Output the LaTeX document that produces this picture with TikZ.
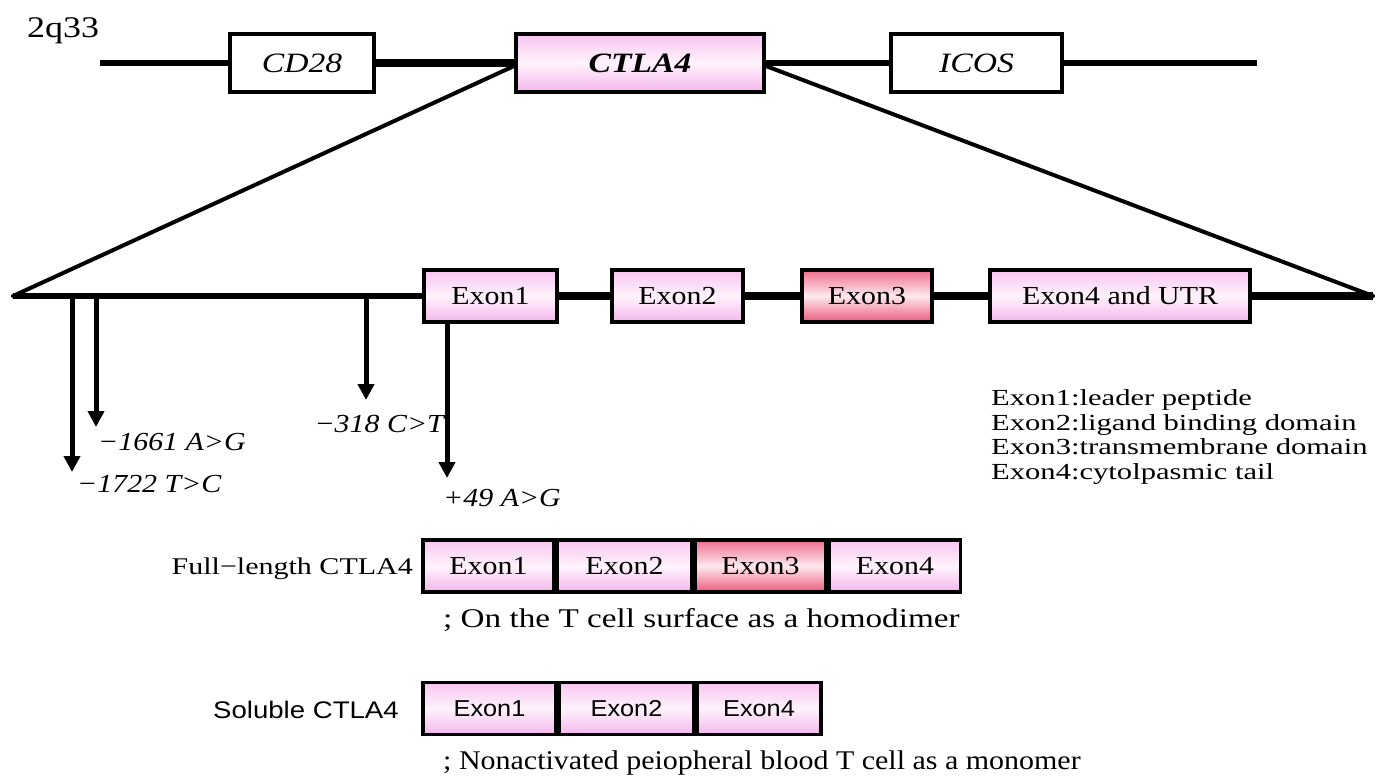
\documentclass[tikz,border=0pt]{standalone}
\usepackage{fontspec}
\setmainfont{Liberation Serif}
\newfontfamily\chromfont[FakeStretch=1.2]{Liberation Serif}
\newfontfamily\boxfont[FakeStretch=1.15]{Liberation Serif}
\newfontfamily\legfont[FakeStretch=1.33]{Liberation Serif}
\newfontfamily\lblfont[FakeStretch=1.25]{Liberation Serif}
\newfontfamily\capAfont[FakeStretch=1.23]{Liberation Serif}
\newfontfamily\capBfont[FakeStretch=1.11]{Liberation Serif}
\newfontfamily\solfont[FakeStretch=1.15]{Liberation Sans}
\newfontfamily\solboxfont[FakeStretch=1.1]{Liberation Sans}
\usetikzlibrary{arrows.meta}
\definecolor{pinktop}{HTML}{F7C4F1}
\definecolor{pinkmid}{HTML}{FFF3FC}
\definecolor{pinkbot}{HTML}{F3B6EC}
\definecolor{redtop}{HTML}{EE6E8E}
\definecolor{redmid}{HTML}{FFE9EF}
\definecolor{redbot}{HTML}{EA5A7C}
\begin{document}
\begin{tikzpicture}[x=1pt,y=-1pt,
  pinkshade/.style={top color=pinktop, bottom color=pinkbot, middle color=pinkmid},
  redshade/.style={top color=redtop, bottom color=redbot, middle color=redmid},
  genebox/.style={draw, line width=3.8pt, minimum height=58pt, inner sep=0pt,
    font=\chromfont\fontsize{28}{30}\selectfont\itshape},
  exon/.style={draw, line width=3.2pt, minimum height=52pt, inner sep=0pt,
    font=\boxfont\fontsize{26}{28}\selectfont},
  seg/.style={draw, line width=3.5pt, minimum height=52pt, inner sep=0pt,
    font=\boxfont\fontsize{26}{28}\selectfont},
  solseg/.style={seg, font=\solboxfont\fontsize{23}{25}\selectfont},
  chrline/.style={line width=5.5pt},
  linkline/.style={line width=8.5pt},
  diag/.style={line width=4pt, line cap=round},
  mut/.style={line width=5pt, -{Triangle[width=16pt,length=16pt]}},
  mutlabel/.style={inner sep=0pt, anchor=base west,
    font=\boxfont\fontsize{26}{28}\selectfont\itshape},
  legline/.style={inner sep=0pt, anchor=base west,
    font=\legfont\fontsize{23}{24}\selectfont},
]
\useasboundingbox (0,0) rectangle (1376,779);

% chromosome band 2q33 with its three genes
\node[inner sep=0pt, anchor=base west, font=\chromfont\fontsize{30}{30}\selectfont] (band) at (27,37) {2q33};
\node[genebox, fill=white, minimum width=144pt] (cd28) at (302,63) {CD28};
\node[genebox, pinkshade, minimum width=248pt,
  font=\chromfont\fontsize{28}{30}\selectfont\bfseries\itshape] (ctla) at (640,63) {CTLA4};
\node[genebox, fill=white, minimum width=171pt] (icos) at (976.5,63) {ICOS};
\coordinate (chrL) at (100,63);
\coordinate (chrR) at (1257,63);
\draw[chrline] (chrL) -- (cd28.west);
\draw[line width=8pt] (cd28.east) -- (ctla.west);
\draw[chrline] (ctla.east) -- (icos.west);
\draw[chrline] (icos.east) -- (chrR);

% CTLA4 gene structure
\coordinate (geneL) at (13,296);
\coordinate (geneR) at (1373,296);
\node[exon, pinkshade, minimum width=133pt] (x1) at (490.5,296) {Exon1};
\node[exon, pinkshade, minimum width=131pt] (x2) at (677.5,296) {Exon2};
\node[exon, redshade, minimum width=130pt] (x3) at (867,296) {Exon3};
\node[exon, pinkshade, minimum width=260pt] (x4) at (1120,296) {Exon4 and UTR};
\draw[chrline] (geneL) -- (x1.west);
\draw[linkline] (x1.east) -- (x2.west);
\draw[linkline] (x2.east) -- (x3.west);
\draw[linkline] (x3.east) -- (x4.west);
\draw[linkline] (x4.east) -- (geneR);

% zoom-out lines from the gene on the chromosome
\draw[diag] ([yshift=-3pt]ctla.west) -- (geneL);
\draw[diag] ([yshift=-3pt]ctla.east) -- (geneR);

% polymorphisms
\coordinate (m1) at (72,472);
\coordinate (m2) at (96,427);
\coordinate (m3) at (366,400);
\coordinate (m4) at (447,478);
\draw[mut] (m1 |- geneL) -- (m1);
\draw[mut] (m2 |- geneL) -- (m2);
\draw[mut] (m3 |- geneL) -- (m3);
\draw[mut] (m4 |- x1.south) -- (m4);
\node[mutlabel] (p1722) at (77,492) {−1722 T>C};
\node[mutlabel] (p1661) at (98,450) {−1661 A>G};
\node[mutlabel, anchor=base east] (p318) at (444,432) {−318 C>T};
\node[mutlabel] (p49) at (443,506) {+49 A>G};

% exon functions
\node[legline] (leg1) at (991,405.5) {Exon1:leader peptide};
\node[legline] (leg2) at (991,430) {Exon2:ligand binding domain};
\node[legline] (leg3) at (991,454.5) {Exon3:transmembrane domain};
\node[legline] (leg4) at (991,479) {Exon4:cytolpasmic tail};

% full-length transcript
\node[seg, pinkshade, minimum width=131pt] (f1) at (488.5,566) {Exon1};
\node[seg, pinkshade, minimum width=134pt, anchor=west] (f2) at (f1.east) {Exon2};
\node[seg, redshade, minimum width=131pt, anchor=west] (f3) at (f2.east) {Exon3};
\node[seg, pinkshade, minimum width=131pt, anchor=west] (f4) at (f3.east) {Exon4};
\node[inner sep=0pt, anchor=base east, font=\lblfont\fontsize{24}{26}\selectfont] (flabel) at (413,574) {Full−length CTLA4};
\node[inner sep=0pt, anchor=base west, font=\capAfont\fontsize{27}{29}\selectfont] (fcap) at (443,627) {; On the T cell surface as a homodimer};

% soluble transcript
\node[solseg, pinkshade, minimum width=133pt] (s1) at (489.5,708.5) {Exon1};
\node[solseg, pinkshade, minimum width=134pt, anchor=west] (s2) at (s1.east) {Exon2};
\node[solseg, pinkshade, minimum width=124pt, anchor=west] (s3) at (s2.east) {Exon4};
\node[inner sep=0pt, anchor=base east, font=\solfont\fontsize{24}{26}\selectfont] (slabel) at (399,718) {Soluble CTLA4};
\node[inner sep=0pt, anchor=base west, font=\capBfont\fontsize{27}{29}\selectfont] (scap) at (443,769) {; Nonactivated peiopheral blood T cell as a monomer};
\end{tikzpicture}
\end{document}
